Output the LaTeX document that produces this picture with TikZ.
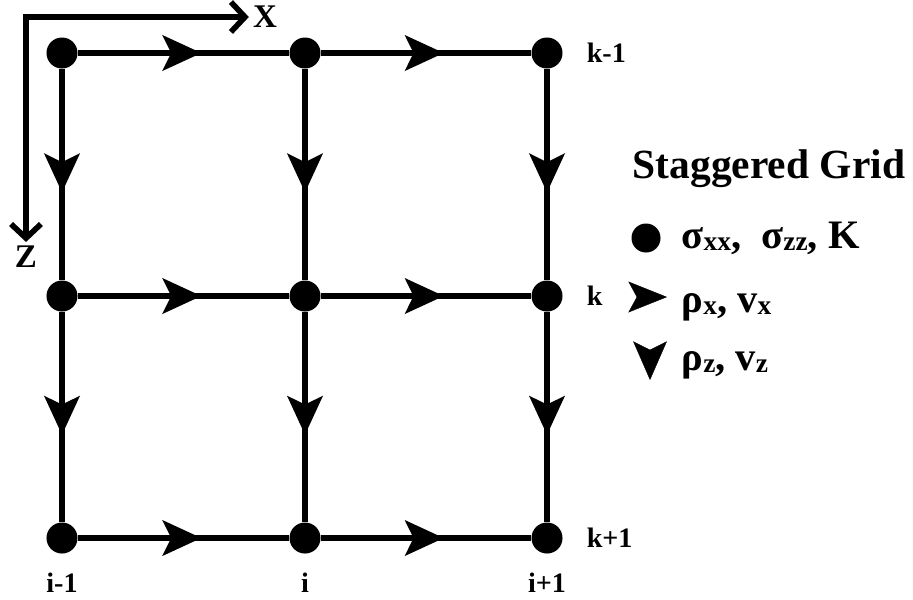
\documentclass[tikz,border=0pt]{standalone}
\usepackage{fontspec}
\setmainfont{Liberation Serif}
\usetikzlibrary{positioning,arrows.meta,decorations.markings}

\newcommand{\lowidx}[1]{\raisebox{-0.6pt}{\fontsize{7.8}{8}\selectfont #1}}

\begin{document}
\begin{tikzpicture}[
        x=0.01cm, y=-0.01cm,
        gridPoint/.style={circle, fill=black, inner sep=0pt, minimum size=0.31cm},
        gridEdge/.style={line width=1.6pt, postaction={decorate},
            decoration={markings, mark=at position 0.585 with {\arrow{Stealth[length=11pt,width=10pt,inset=2.4pt]}}}},
        axisArrow/.style={line width=1.6pt, {Straight Barb[length=4pt,width=8.5pt]}-{Straight Barb[length=4pt,width=8.5pt]}},
        iconTip/.style={line width=0.1pt, -{Stealth[length=11pt,width=8.8pt,inset=2.4pt]}},
        idxLabel/.style={font=\fontsize{8}{9}\selectfont\bfseries, inner sep=1pt},
        axisLabel/.style={font=\fontsize{9.4}{10}\selectfont\bfseries, inner sep=1pt},
        legFont/.style={font=\fontsize{11.5}{13}\selectfont\bfseries, inner sep=0pt}
    ]
        \useasboundingbox (0,0) rectangle (913,599);

        % Grid points
        \foreach \col/\x in {1/62,2/305,3/547}
            \foreach \row/\y in {1/53,2/296,3/538}
                \node[gridPoint] (p\row\col) at (\x,\y) {};

        % Horizontal and vertical edges
        \foreach \r in {1,2,3}
            \foreach \a/\b in {1/2,2/3} {
                \draw[gridEdge] (p\r\a) -- (p\r\b);
                \draw[gridEdge] (p\a\r) -- (p\b\r);
            }

        % Axes
        \node[axisLabel] (xLabel) at (265,17) {X};
        \node[axisLabel] (zLabel) at (26,257) {Z};
        \draw[axisArrow] (zLabel.north) |- (xLabel.west);

        % Index labels
        \node[idxLabel, right=5.5pt of p13] (kTop) {k-1};
        \node[idxLabel, right=5.5pt of p23] (kMid) {k};
        \node[idxLabel, right=5.5pt of p33] (kBot) {k+1};
        \node[idxLabel, below=4pt of p31] (iLeft) {i-1};
        \node[idxLabel, below=4pt of p32] (iMid) {i};
        \node[idxLabel, below=4pt of p33] (iRight) {i+1};

        % Legend
        \node[font=\fontsize{11.8}{13}\selectfont\bfseries, inner sep=0pt, anchor=base west] (legTitle) at (632,178) {Staggered Grid};
        \node[gridPoint, minimum size=0.29cm] (legDot) at (646,238) {};
        \node[legFont, anchor=base west] (legStress) at (681,248) {σ\lowidx{xx},\ \ σ\lowidx{zz}, K};
        \coordinate (vxTail) at (665,297);
        \coordinate (vxTip) at (667,297);
        \draw[iconTip] (vxTail) -- (vxTip);
        \node[legFont, anchor=base west] (legVx) at (681,312) {ρ\lowidx{x}, v\lowidx{x}};
        \coordinate (vzTail) at (650,378);
        \coordinate (vzTip) at (650,380);
        \draw[iconTip, -{Stealth[length=11pt,width=9.6pt,inset=2.4pt]}] (vzTail) -- (vzTip);
        \node[legFont, anchor=base west] (legVz) at (681,370) {ρ\lowidx{z}, v\lowidx{z}};
    \end{tikzpicture}
\end{document}
